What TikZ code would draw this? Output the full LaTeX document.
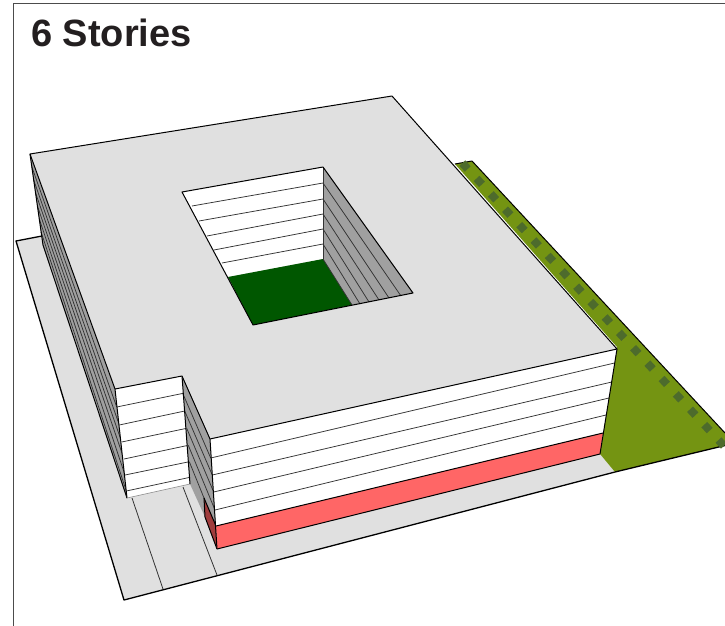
\documentclass[tikz,border=0pt]{standalone}
\usepackage{fontspec}
\setmainfont{Liberation Sans}
\definecolor{roof}{HTML}{E0E0E0}
\definecolor{sidegray}{HTML}{A0A0A0}
\definecolor{grass}{HTML}{749412}
\definecolor{court}{HTML}{005700}
\definecolor{treedash}{HTML}{4D6B2C}
\definecolor{salmon}{HTML}{FF6666}
\definecolor{darkred}{HTML}{A03C3C}
\definecolor{ink}{HTML}{231F20}
\tikzset{
  edge/.style={draw=black,line width=1pt,line join=round},
  floorline/.style={draw=black!80,line width=0.75pt},
  thinline/.style={draw=black!80,line width=0.8pt},
  titletext/.style={anchor=base west,inner sep=0pt,text=ink,font=\fontsize{38}{38}\selectfont\bfseries},
}
\begin{document}
\begin{tikzpicture}[x=1pt,y=-1pt]
\useasboundingbox (0,0) rectangle (725,626);
\clip (0,0) rectangle (725,626);
\fill[white] (0,0) rectangle (725,626);
% frame
\draw[draw=black!70,line width=1pt] (13.5,626) -- (13.5,4) -- (725,4);
% ground
\path[fill=roof] (16,241) -- (42,236) -- (300,300) -- (600,454) -- (615,472) -- (124,600) -- cycle;
\draw[edge,line width=1.3pt] (42,236) -- (16,241) -- (124,600) -- (615,472);
% grass
\path[fill=grass,draw=none] (455,164) -- (472,161) -- (725,433) -- (725,445.5) -- (615,472) -- (600,454) -- (617,347) -- cycle;
\draw[edge] (455,164) -- (472,161) -- (725,433);
\draw[edge,line width=1.3pt] (615,472) -- (725,445.5);
\draw[treedash,line width=8pt,dash pattern=on 8pt off 12.96pt] (462.3,163.1) -- (724,446);
% ground lines
\draw[thinline] (132,498) -- (163,589);
\draw[thinline] (183,487) -- (217,575);
% left strip
\path[fill=sidegray] (30,154) -- (115,389) -- (127,498) -- (43,245) -- cycle;
\foreach \xa/\ya/\x/\y in {31.9/167/116.7/407,33.7/180/119.3/425,35.6/193/121.7/442,37.4/206/124/459,39.3/219/125/475,41.1/232/126.3/491}
  \draw[floorline] (\xa,\ya) -- (\x,\y);
\draw[edge] (30,154) -- (43,245) -- (127,498);
% wing front
\path[fill=white] (115,389) -- (182,376) -- (190,484) -- (127,498) -- cycle;
\foreach \xa/\ya/\xb/\yb in {116.7/407/183.3/393.3,119.3/425/184.7/411,121.7/442/186.7/428.3,124/459/188.3/445.3,125/475/189.3/461.7,126.3/491/190/477.3}
  \draw[floorline] (\xa,\ya) -- (\xb,\yb);
\draw[draw=black!45,line width=0.6pt] (127,498) -- (190,484);
\draw[edge] (115,389) -- (127,498);
% notch side
\path[fill=sidegray] (182,376) -- (210,439) -- (216,526) -- (204,498) -- (205,517) -- (190,484) -- cycle;
\path[fill=darkred] (204,498) -- (216,526) -- (217,549) -- (205,517) -- cycle;
\foreach \xa/\ya/\xb/\yb in {182.7/393.3/210.7/458,184.7/411/212.3/475,186.7/428.3/213.7/492,188.3/445.3/215/510,189.3/461.7/204/498}
  \draw[floorline] (\xa,\ya) -- (\xb,\yb);
\draw[edge] (182,376) -- (190,484);
\draw[edge] (204,498) -- (216,526);
\draw[edge] (204,498) -- (205,517) -- (217,549);
% main front
\path[fill=white] (210,439) -- (617,349) -- (603,433) -- (216,526) -- cycle;
\path[fill=salmon] (216,526) -- (603,433) -- (600,454) -- (217,549) -- cycle;
\foreach \xa/\ya/\xb/\yb in {210.7/458/614.5/363,212.3/475/611.8/382,213.7/492/609/398,215/510/606/415}
  \draw[floorline] (\xa,\ya) -- (\xb,\yb);
\draw[edge] (216,526) -- (603,433);
\draw[edge] (217,549) -- (600,454);
\draw[edge] (210,439) -- (217,549);
\draw[edge] (617,349) -- (600,454);
% roof
\path[fill=roof] (30,154) -- (392,96) -- (617,349) -- (210,439) -- (182,376) -- (115,389) -- cycle;
\draw[edge] (115,389) -- (30,154) -- (392,96) -- (617,349) -- (210,439) -- (182,376) -- (115,389);
% courtyard
\path[fill=white] (182,192) -- (323,167) -- (323,259) -- (228,277) -- cycle;
\path[fill=sidegray] (323,167) -- (413,293) -- (352,305) -- (323,259) -- cycle;
\path[fill=court] (228,277) -- (323,259) -- (352,305) -- (253,325) -- cycle;
\foreach \xa/\ya/\yb in {192/206/183,199/221/199,207/236/214,214/250/229,222/263/244}
  \draw[floorline] (\xa,\ya) -- (323,\yb);
\foreach \ya/\xb/\yb in {183/401/296,199/389/298,214/379/300,229/369/302,244/360/304}
  \draw[floorline] (323,\ya) -- (\xb,\yb);
\draw[floorline] (323,259) -- (352,305);
\draw[floorline] (323,167) -- (323,259);
\draw[edge] (253,325) -- (182,192) -- (323,167) -- (413,293) -- cycle;
% title
\node[titletext] (title) at (31,47) {6 Stories};
\end{tikzpicture}
\end{document}
